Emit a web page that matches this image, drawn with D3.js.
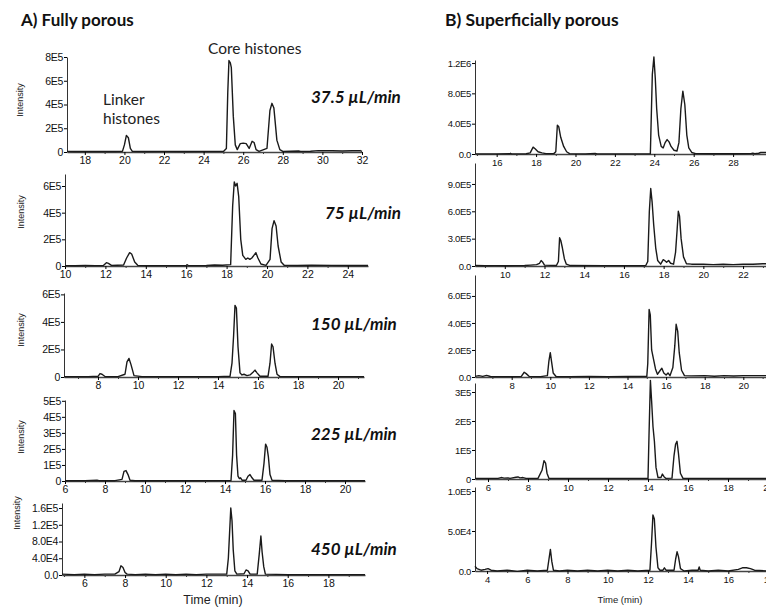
<!DOCTYPE html>
<html>
<head>
<meta charset="utf-8">
<script src="https://cdn.jsdelivr.net/npm/d3@7"></script>
<style>
body { margin: 0; background: #fff; }
.tick text { font-family: "Liberation Sans", Arial, sans-serif; fill: #111; }
.heading { font-family: Lato, "Open Sans", sans-serif; font-weight: bold; fill: #111; }
.note { font-family: Lato, "Open Sans", sans-serif; fill: #222; }
.rate { font-family: Lato, "Open Sans", sans-serif; font-weight: bold; font-style: italic; fill: #111; }
.ylab, .xlab { font-family: "Liberation Sans", Arial, sans-serif; fill: #222; }
</style>
</head>
<body>
<div id="chart"></div>
<script>
// chromatogram traces: [time (min), intensity (x1E5)]
// A) fully porous column
const fp375 = [[17.1,0.05],[17.5,0.04],[18.0,0.05],[18.5,0.04],[19.0,0.05],[19.5,0.04],[19.9,0.05],[20.0,0.6],[20.1,1.4],[20.2,1.2],[20.3,0.3],[20.4,0.05],[21,0.04],[22,0.05],[23,0.04],[24,0.05],[25,0.05],[25.15,0.3],[25.22,5.0],[25.28,7.7],[25.35,7.5],[25.4,7.1],[25.5,3.0],[25.6,0.6],[25.7,0.2],[25.85,0.7],[26.0,0.75],[26.15,0.7],[26.3,0.3],[26.45,0.9],[26.55,0.8],[26.65,0.2],[26.8,0.05],[27.2,0.3],[27.35,3.5],[27.45,4.1],[27.55,3.7],[27.7,1.0],[27.85,0.2],[28.0,0.05],[28.8,0.08],[28.9,0.05],[29.4,0.06],[29.8,0.12],[30.0,0.1],[30.5,0.1],[31.0,0.08],[31.5,0.1],[31.9,0.12],[32.0,0.05]];
const fp75 = [[10,0.03],[10.5,0.02],[11,0.04],[11.5,0.03],[11.9,0.04],[12.05,0.25],[12.15,0.2],[12.3,0.05],[12.6,0.06],[12.9,0.08],[13.05,0.6],[13.2,1.0],[13.3,0.9],[13.45,0.3],[13.6,0.05],[14,0.03],[15,0.03],[16,0.04],[16.05,0.1],[16.1,0.03],[17,0.04],[17.4,0.08],[17.8,0.06],[18.2,0.1],[18.3,4.5],[18.38,6.3],[18.45,6.0],[18.52,6.2],[18.6,5.2],[18.7,2.0],[18.8,0.8],[18.95,0.5],[19.05,0.6],[19.15,0.5],[19.25,0.6],[19.35,0.8],[19.45,1.0],[19.55,0.6],[19.7,0.15],[19.95,0.05],[20.15,0.5],[20.25,2.8],[20.35,3.4],[20.45,3.0],[20.55,1.5],[20.7,0.3],[20.85,0.05],[21.5,0.04],[22.2,0.06],[23.2,0.05],[24,0.04],[25,0.04]];
const fp150 = [[6.3,0.03],[7,0.03],[7.5,0.03],[8.0,0.05],[8.1,0.25],[8.2,0.2],[8.35,0.04],[9.0,0.03],[9.35,0.2],[9.45,1.1],[9.55,1.35],[9.65,0.9],[9.8,0.1],[10.2,0.03],[12,0.03],[14,0.03],[14.6,0.05],[14.7,1.0],[14.78,3.0],[14.85,5.2],[14.92,5.0],[15.0,2.2],[15.1,0.3],[15.2,0.15],[15.3,0.2],[15.45,0.1],[15.6,0.15],[15.75,0.35],[15.85,0.5],[15.95,0.3],[16.1,0.05],[16.5,0.05],[16.6,1.0],[16.68,2.4],[16.75,2.2],[16.85,1.0],[16.95,0.2],[17.1,0.03],[18,0.03],[19,0.03],[20,0.03],[21.3,0.03]];
const fp225 = [[6,0.02],[7,0.02],[7.6,0.05],[7.7,0.02],[8.5,0.02],[8.85,0.1],[8.95,0.6],[9.05,0.65],[9.15,0.4],[9.25,0.05],[9.5,0.02],[12,0.02],[14.3,0.03],[14.38,1.6],[14.45,4.4],[14.52,4.2],[14.58,1.6],[14.65,0.3],[14.72,0.15],[14.78,0.2],[14.85,0.05],[15.05,0.05],[15.15,0.3],[15.25,0.4],[15.35,0.2],[15.45,0.05],[15.85,0.05],[15.95,1.1],[16.03,2.3],[16.1,2.1],[16.17,1.5],[16.25,0.4],[16.35,0.05],[17,0.02],[19,0.02],[21,0.02]];
const fp450 = [[4.9,0.02],[5.5,0.01],[6,0.02],[6.5,0.01],[7,0.02],[7.5,0.02],[7.7,0.08],[7.8,0.22],[7.9,0.18],[8.0,0.06],[8.1,0.02],[8.5,0.01],[9,0.02],[9.5,0.01],[10,0.02],[10.5,0.01],[11,0.02],[11.5,0.01],[12,0.02],[13.0,0.02],[13.08,0.4],[13.14,1.0],[13.2,1.6],[13.26,1.3],[13.32,0.6],[13.4,0.1],[13.5,0.02],[13.85,0.03],[13.95,0.12],[14.05,0.1],[14.15,0.02],[14.5,0.02],[14.6,0.5],[14.68,0.93],[14.74,0.55],[14.82,0.2],[14.9,0.02],[16,0.01],[18,0.01],[19.8,0.01]];

// B) superficially porous column
const sp375 = [[14.9,0.02],[15.5,0.02],[16,0.02],[16.65,0.03],[16.7,0.1],[16.75,0.02],[17.5,0.03],[17.7,0.15],[17.85,0.9],[17.95,0.7],[18.1,0.3],[18.3,0.15],[18.5,0.05],[18.9,0.05],[19.0,0.3],[19.08,3.8],[19.15,3.6],[19.25,2.2],[19.4,1.0],[19.55,0.3],[19.7,0.05],[20.5,0.02],[21.0,0.08],[21.1,0.02],[22,0.02],[23,0.02],[23.8,0.03],[23.9,10.5],[23.98,12.8],[24.05,10.0],[24.12,6.0],[24.22,2.5],[24.35,1.0],[24.45,0.8],[24.55,1.5],[24.65,1.9],[24.75,1.6],[24.85,1.0],[25.0,0.5],[25.15,0.4],[25.25,1.5],[25.35,6.0],[25.45,8.3],[25.55,6.5],[25.65,2.5],[25.75,0.8],[25.9,0.2],[26.1,0.05],[27,0.03],[28,0.03],[28.9,0.05],[29.0,0.12],[29.1,0.05],[29.3,0.1],[29.4,0.2],[29.8,0.2]];
const sp75 = [[8.5,0.05],[9,0.03],[9.5,0.04],[10,0.03],[10.5,0.04],[11,0.05],[11.3,0.1],[11.6,0.15],[11.75,0.3],[11.83,0.6],[11.9,0.45],[12.0,0.1],[12.6,0.05],[12.7,0.5],[12.76,3.1],[12.82,2.8],[12.9,2.0],[13.0,0.8],[13.1,0.2],[13.3,0.05],[15,0.04],[16,0.04],[17.1,0.05],[17.2,0.5],[17.28,6.0],[17.35,8.5],[17.42,7.0],[17.5,4.5],[17.6,2.0],[17.7,0.6],[17.85,0.2],[17.98,0.7],[18.05,0.6],[18.15,0.4],[18.25,0.6],[18.35,0.3],[18.5,0.2],[18.6,1.5],[18.68,4.0],[18.74,6.0],[18.8,5.5],[18.88,3.0],[19.0,1.0],[19.15,0.25],[19.4,0.2],[20,0.2],[20.5,0.15],[21,0.2],[21.5,0.15],[22,0.2],[22.5,0.2],[23,0.25],[23.6,0.25]];
const sp150 = [[6.1,0.05],[6.3,0.1],[6.5,0.05],[6.7,0.12],[6.9,0.04],[7.2,0.03],[8,0.03],[8.5,0.05],[8.65,0.35],[8.75,0.25],[8.9,0.05],[9.5,0.03],[9.85,0.1],[9.93,1.2],[10.0,1.8],[10.06,1.2],[10.15,0.3],[10.3,0.04],[11,0.03],[12,0.04],[13,0.03],[14,0.04],[15.0,0.05],[15.05,1.0],[15.12,5.0],[15.18,4.6],[15.25,2.0],[15.35,1.3],[15.45,0.6],[15.55,0.2],[15.7,0.5],[15.78,0.65],[15.88,0.3],[16.0,0.15],[16.1,0.3],[16.2,0.1],[16.35,0.7],[16.45,2.3],[16.52,3.9],[16.6,3.4],[16.68,1.8],[16.8,0.5],[16.95,0.1],[17.3,0.08],[18,0.1],[18.5,0.06],[19,0.1],[19.5,0.07],[20,0.1],[20.5,0.1],[21.3,0.1]];
const sp225 = [[5.35,0.02],[6,0.02],[6.5,0.02],[6.7,0.05],[6.8,0.03],[7.0,0.04],[7.1,0.02],[7.4,0.06],[7.5,0.07],[7.6,0.04],[7.75,0.05],[7.9,0.02],[8.5,0.02],[8.7,0.3],[8.8,0.63],[8.88,0.55],[8.95,0.2],[9.05,0.02],[10,0.02],[12,0.02],[14.0,0.02],[14.05,1.5],[14.12,3.4],[14.18,2.7],[14.25,1.8],[14.32,1.3],[14.4,0.4],[14.5,0.05],[14.65,0.05],[14.72,0.17],[14.8,0.08],[14.9,0.02],[15.2,0.03],[15.3,0.8],[15.38,1.2],[15.45,1.3],[15.52,0.9],[15.62,0.2],[15.75,0.02],[17,0.02],[19,0.02],[20.5,0.02]];
const sp450 = [[3.4,0.06],[3.5,0.03],[3.7,0.01],[3.9,0.02],[4.05,0.03],[4.2,0.01],[4.5,0.0],[5,0.01],[5.5,-0.005],[6,0.01],[6.5,0.0],[7.0,0.01],[7.08,0.15],[7.15,0.27],[7.22,0.12],[7.3,0.01],[7.6,0.0],[8,0.01],[8.5,0.0],[9,0.01],[9.5,0.0],[10,0.01],[10.5,0.0],[11,0.01],[11.5,0.0],[12.1,0.01],[12.18,0.35],[12.25,0.7],[12.32,0.65],[12.4,0.3],[12.5,0.04],[12.6,0.01],[12.75,0.01],[12.82,0.04],[12.9,0.01],[13.3,0.01],[13.38,0.15],[13.45,0.24],[13.52,0.18],[13.62,0.03],[13.8,0.0],[14.2,0.01],[14.5,0.01],[14.55,0.05],[14.6,0.01],[15,0.0],[15.5,0.01],[16,0.0],[16.5,0.02],[16.7,0.04],[16.9,0.04],[17.1,0.03],[17.3,0.01],[18,0.0],[18.4,0.01]];

// flow rates
const rates = ["37.5 \u00b5L/min", "75 \u00b5L/min", "150 \u00b5L/min", "225 \u00b5L/min", "450 \u00b5L/min"];

// x tick labels (min)
const xTicksA = [[18,20,22,24,26,28,30,32],[10,12,14,16,18,20,22,24],[8,10,12,14,16,18,20],[6,8,10,12,14,16,18,20],[6,8,10,12,14,16,18]];
const xTicksB = [[16,18,20,22,24,26,28],[10,12,14,16,18,20,22],[8,10,12,14,16,18,20],[6,8,10,12,14,16,18,20],[4,6,8,10,12,14,16,18]];

// y ticks (x1E5) and their labels
const yTicksA = [[0,2,4,6,8],[0,2,4,6],[0,2,4,6],[0,1,2,3,4,5],[0,0.4,0.8,1.2,1.6]];
const yLabelsA = [["0","2E5","4E5","6E5","8E5"],["0","2E5","4E5","6E5"],["0","2E5","4E5","6E5"],["0","1E5","2E5","3E5","4E5","5E5"],["0.0","4.0E4","8.0E4","1.2E5","1.6E5"]];
const yTicksB = [[0,4,8,12],[0,3,6,9],[0,2,4,6],[0,1,2,3],[0,0.5,1.0]];
const yLabelsB = [["0.0","4.0E5","8.0E5","1.2E6"],["0.0","3.0E5","6.0E5","9.0E5"],["0.0","2.0E5","4.0E5","6.0E5"],["0","1E5","2E5","3E5"],["0.0","5.0E4","1.0E5"]];

const svg = d3.select("#chart")
  .append("svg")
  .attr("width", 766)
  .attr("height", 608);

// panel frames (pixel boxes + axis domains)
const panels = [
  { data: fp375, xd: [17.1, 32], l: 67, r: 362, t: 57, b: 152, ymax: 8.0, xt: xTicksA[0], yt: yTicksA[0], yl: yLabelsA[0], fs: 10.5, ilab: [20, 100] },
  { data: fp75, xd: [10, 25], l: 65, r: 368, t: 174, b: 266, ymax: 6.9, xt: xTicksA[1], yt: yTicksA[1], yl: yLabelsA[1], fs: 10.5, ilab: [21, 212] },
  { data: fp150, xd: [6.3, 21.3], l: 64, r: 364, t: 293, b: 377, ymax: 6.1, xt: xTicksA[2], yt: yTicksA[2], yl: yLabelsA[2], fs: 10.5, ilab: [21, 330] },
  { data: fp225, xd: [6, 21], l: 65, r: 365, t: 400, b: 481, ymax: 5.05, xt: xTicksA[3], yt: yTicksA[3], yl: yLabelsA[3], fs: 10.5, ilab: [21, 437] },
  { data: fp450, xd: [4.9, 19.8], l: 62, r: 365, t: 503, b: 575, ymax: 1.72, xt: xTicksA[4], yt: yTicksA[4], yl: yLabelsA[4], fs: 10.5, ilab: [17, 513] },
  { data: sp375, xd: [14.9, 30.38], l: 475, r: 780, t: 60, b: 154, ymax: 12.4, xt: xTicksB[0], yt: yTicksB[0], yl: yLabelsB[0], fs: 9.5 },
  { data: sp75, xd: [8.5, 23.86], l: 475, r: 780, t: 163, b: 266, ymax: 11.3, xt: xTicksB[1], yt: yTicksB[1], yl: yLabelsB[1], fs: 9.5 },
  { data: sp150, xd: [6.1, 21.9], l: 475, r: 780, t: 275, b: 377, ymax: 7.55, xt: xTicksB[2], yt: yTicksB[2], yl: yLabelsB[2], fs: 9.5 },
  { data: sp225, xd: [5.35, 20.6], l: 475, r: 780, t: 383, b: 479, ymax: 3.31, xt: xTicksB[3], yt: yTicksB[3], yl: yLabelsB[3], fs: 9.5 },
  { data: sp450, xd: [3.4, 18.57], l: 475, r: 780, t: 487, b: 571, ymax: 1.05, xt: xTicksB[4], yt: yTicksB[4], yl: yLabelsB[4], fs: 9.5 }
];

panels.forEach(function (p) {
  const x = d3.scaleLinear().domain(p.xd).range([p.l, p.r]);
  const y = d3.scaleLinear().domain([0, p.ymax]).range([p.b, p.t]);

  // minor ticks on odd minutes
  const minor = d3.range(Math.ceil(p.xd[0]), p.xd[1]).filter(function (d) { return d % 2 !== 0; });
  svg.append("g")
    .attr("transform", "translate(0," + p.b + ")")
    .call(d3.axisBottom(x).tickValues(minor).tickSize(2).tickFormat(""))
    .call(function (g) { g.select(".domain").remove(); })
    .selectAll("line").attr("stroke", "#333");

  const gx = svg.append("g")
    .attr("transform", "translate(0," + p.b + ")")
    .call(d3.axisBottom(x).tickValues(p.xt).tickFormat(d3.format("d")).tickSize(3).tickSizeOuter(0).tickPadding(2));
  gx.selectAll("text").style("font-size", p.fs + "px");
  gx.select(".domain").attr("stroke", "#444").attr("stroke-width", 1.5);

  const gy = svg.append("g")
    .attr("transform", "translate(" + p.l + ",0)")
    .call(d3.axisLeft(y).tickValues(p.yt).tickFormat(function (d, i) { return p.yl[i]; }).tickSize(3).tickSizeOuter(0).tickPadding(1));
  gy.selectAll("text").style("font-size", p.fs + "px").attr("letter-spacing", "-0.3");
  gy.select(".domain").attr("stroke", "#333");

  // the trace
  svg.append("path")
    .datum(p.data)
    .attr("fill", "none")
    .attr("stroke", "#1a1a1a")
    .attr("stroke-width", 1.4)
    .attr("stroke-linejoin", "round")
    .attr("d", d3.line()
      .x(function (d) { return x(d[0]); })
      .y(function (d) { return y(d[1]); }));

  if (p.ilab) {
    svg.append("text")
      .attr("class", "ylab")
      .attr("transform", "translate(" + p.ilab[0] + "," + p.ilab[1] + ") rotate(-90)")
      .attr("text-anchor", "middle")
      .attr("dy", "0.35em")
      .style("font-size", "9px")
      .text("Intensity");
  }
});

// flow-rate labels beside the left column
const rateX = [311, 325, 311, 311, 311];
const rateY = [103, 219, 330, 440, 555];
rates.forEach(function (r, i) {
  svg.append("text")
    .attr("class", "rate")
    .attr("x", rateX[i])
    .attr("y", rateY[i])
    .style("font-size", "17px")
    .text(r);
});

// headings and peak notes
svg.append("text").attr("class", "heading").attr("x", 21).attr("y", 26).style("font-size", "17px").text("A) Fully porous");
svg.append("text").attr("class", "heading").attr("x", 445).attr("y", 26).style("font-size", "17.5px").text("B) Superficially porous");
svg.append("text").attr("class", "note").attr("x", 208).attr("y", 54).style("font-size", "15.5px").text("Core histones");
svg.append("text").attr("class", "note").attr("x", 103).attr("y", 105).style("font-size", "15.5px").text("Linker");
svg.append("text").attr("class", "note").attr("x", 103).attr("y", 124).style("font-size", "15.5px").text("histones");

svg.append("text").attr("class", "xlab").attr("x", 213).attr("y", 604).attr("text-anchor", "middle").style("font-size", "12.5px").text("Time (min)");
svg.append("text").attr("class", "xlab").attr("x", 620).attr("y", 603).attr("text-anchor", "middle").style("font-size", "9.5px").text("Time (min)");
</script>
</body>
</html>
